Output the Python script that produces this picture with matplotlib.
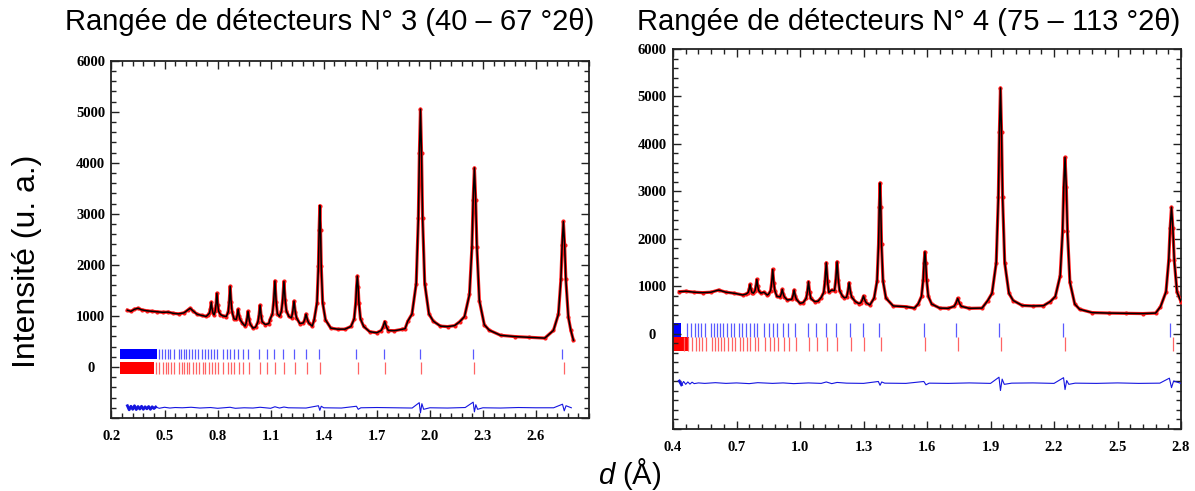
import matplotlib
matplotlib.use('Agg')
import matplotlib.pyplot as plt
from matplotlib.ticker import MultipleLocator

plt.rcParams['font.family'] = ['Liberation Sans', 'DejaVu Sans']
plt.rcParams['mathtext.fontset'] = 'custom'
plt.rcParams['mathtext.it'] = 'Liberation Sans:italic'
plt.rcParams['mathtext.rm'] = 'Liberation Sans'

# --- detector bank 3 (40 - 67 deg 2theta): profile ---
d3 = [0.29, 0.31, 0.33, 0.35, 0.37, 0.40, 0.43, 0.46, 0.49, 0.52, 0.55, 0.58, 0.61, 0.63, 0.645, 0.66, 0.685, 0.71, 0.735,
      0.744, 0.754, 0.759, 0.764, 0.769, 0.774, 0.780,
      0.786, 0.791, 0.796, 0.801, 0.806, 0.816, 0.830, 0.849,
      0.860, 0.8655, 0.871, 0.8765, 0.882, 0.893,
      0.905, 0.9105, 0.916, 0.9215, 0.927, 0.940, 0.955,
      0.960, 0.966, 0.972, 0.978, 0.984, 1.000, 1.015,
      1.028, 1.034, 1.040, 1.046, 1.052, 1.070, 1.090,
      1.096, 1.110, 1.117, 1.124, 1.131, 1.138, 1.150,
      1.161, 1.168, 1.175, 1.182, 1.189, 1.203,
      1.218, 1.225, 1.232, 1.239, 1.246, 1.265,
      1.285, 1.2925, 1.300, 1.3075, 1.315, 1.335,
      1.346, 1.362, 1.370, 1.374, 1.378, 1.382, 1.386, 1.394, 1.410, 1.44, 1.48, 1.52,
      1.554, 1.572, 1.581, 1.5855, 1.590, 1.5945, 1.599, 1.608, 1.626, 1.66, 1.70,
      1.725, 1.735, 1.745, 1.755, 1.765, 1.80, 1.84, 1.86, 1.875,
      1.899, 1.923, 1.935, 1.941, 1.947, 1.953, 1.959, 1.971, 1.995, 2.02, 2.06, 2.10, 2.14,
      2.168, 2.196, 2.224, 2.238, 2.245, 2.252, 2.259, 2.266, 2.280, 2.308, 2.336, 2.40, 2.48, 2.56, 2.65,
      2.699, 2.727, 2.741, 2.748, 2.755, 2.762, 2.769, 2.783, 2.797, 2.812]
i3 = [1110, 1090, 1130, 1150, 1120, 1100, 1090, 1080, 1070, 1075, 1050, 1040, 1060, 1110, 1150, 1100, 1030, 1010, 990,
      1016, 1054, 1135, 1270, 1135, 1054, 1020,
      1089, 1222, 1445, 1222, 1089, 1027, 1000, 988,
      1076, 1265, 1580, 1265, 1076, 940,
      930, 1005, 1130, 1005, 930, 860, 800,
      842, 935, 1090, 935, 842, 760, 780,
      882, 1005, 1210, 1005, 882, 830, 850,
      928, 1040, 1280, 1685, 1280, 1040, 990,
      1095, 1312, 1675, 1312, 1095, 990,
      962, 1085, 1290, 1085, 962, 850,
      863, 928, 1035, 928, 863, 800,
      923, 1256, 1970, 2684, 3160, 2684, 1970, 1256, 923, 760, 740, 740,
      793, 940, 1255, 1570, 1780, 1570, 1255, 940, 793, 690, 670,
      714, 780, 890, 780, 714, 710, 735, 750, 895,
      1036, 1634, 2915, 4196, 5050, 4196, 2915, 1634, 1036, 895, 800, 790, 810,
      884, 986, 1420, 2350, 3280, 3900, 3280, 2350, 1300, 826, 720, 620, 595, 580, 565,
      716, 1034, 1715, 2396, 2850, 2396, 1715, 980, 720, 520]

d3_diff = [0.29, 0.30, 0.31, 0.32, 0.33, 0.34, 0.35, 0.36, 0.37, 0.38, 0.39, 0.40, 0.41, 0.42, 0.43, 0.44, 0.45,
           0.47, 0.50, 0.53, 0.56, 0.60, 0.65, 0.70, 0.76, 0.80, 0.87, 0.90, 0.95, 1.00, 1.04, 1.10, 1.124, 1.15,
           1.175, 1.20, 1.30, 1.37, 1.378, 1.386, 1.40, 1.50, 1.585, 1.595, 1.61, 1.70, 1.80, 1.90,
           1.94, 1.947, 1.955, 1.965, 2.00, 2.10, 2.20, 2.245, 2.252, 2.26, 2.27, 2.30, 2.40, 2.50, 2.60, 2.70,
           2.75, 2.76, 2.77, 2.80]
i3_diff = [-760, -840, -770, -830, -760, -835, -775, -825, -770, -830, -780, -820, -775, -830, -780, -815, -785,
           -810, -790, -805, -795, -800, -790, -805, -795, -810, -790, -810, -800, -805, -790, -810, -780, -805,
           -785, -800, -805, -760, -850, -770, -800, -805, -770, -830, -800, -795, -800, -805,
           -700, -900, -720, -830, -800, -805, -795, -690, -880, -740, -830, -800, -805, -795, -800, -800,
           -730, -860, -760, -800]

# --- detector bank 4 (75 - 113 deg 2theta) ---
d4 = [0.43, 0.46, 0.50, 0.54, 0.58, 0.615, 0.65, 0.69, 0.73,
      0.746, 0.755, 0.7595, 0.764, 0.7685, 0.773, 0.780,
      0.787, 0.7915, 0.796, 0.8005, 0.805, 0.815, 0.830, 0.845,
      0.851, 0.861, 0.866, 0.871, 0.876, 0.881, 0.891,
      0.906, 0.911, 0.916, 0.921, 0.926, 0.940,
      0.961, 0.9665, 0.972, 0.9775, 0.983, 1.000, 1.015,
      1.029, 1.0345, 1.040, 1.0455, 1.051, 1.070, 1.085,
      1.100, 1.112, 1.118, 1.124, 1.130, 1.136, 1.150,
      1.163, 1.169, 1.175, 1.181, 1.187, 1.200, 1.210,
      1.220, 1.226, 1.232, 1.238, 1.244, 1.262, 1.278,
      1.287, 1.2935, 1.300, 1.3065, 1.313, 1.330,
      1.350, 1.364, 1.371, 1.3745, 1.378, 1.3815, 1.385, 1.392, 1.406, 1.44, 1.50, 1.54,
      1.558, 1.574, 1.582, 1.586, 1.590, 1.594, 1.598, 1.606, 1.622, 1.66, 1.70,
      1.728, 1.7365, 1.745, 1.7535, 1.762, 1.80, 1.86,
      1.887, 1.907, 1.927, 1.937, 1.942, 1.947, 1.952, 1.957, 1.967, 1.987, 2.007, 2.05, 2.10, 2.15,
      2.183, 2.206, 2.229, 2.2405, 2.246, 2.252, 2.258, 2.2635, 2.275, 2.298, 2.321, 2.38, 2.46, 2.54, 2.62, 2.68,
      2.703, 2.729, 2.742, 2.7485, 2.755, 2.7615, 2.768, 2.781, 2.800]
i4 = [890, 900, 880, 870, 880, 925, 880, 857, 821,
      843, 873, 938, 1045, 938, 873, 860,
      910, 1000, 1150, 1000, 910, 860, 880, 820,
      834, 912, 1080, 1360, 1080, 912, 790,
      780, 840, 940, 840, 780, 716,
      729, 802, 925, 802, 729, 646, 660,
      748, 880, 1100, 880, 748, 680, 690,
      767, 876, 1110, 1500, 1110, 876, 925,
      912, 1140, 1520, 1140, 912, 800, 760,
      776, 890, 1080, 890, 776, 680, 640,
      656, 710, 800, 710, 656, 610,
      755, 1116, 1890, 2664, 3180, 2664, 1890, 1116, 755, 590, 575, 545,
      630, 794, 1145, 1496, 1730, 1496, 1145, 794, 630, 545, 540,
      582, 645, 750, 645, 582, 540, 545,
      704, 856, 1500, 2880, 4260, 5180, 4260, 2880, 1500, 856, 704, 600, 590, 595,
      684, 787, 1224, 2160, 3096, 3720, 3096, 2160, 1090, 630, 520, 450, 440, 435, 430, 440,
      574, 886, 1555, 2224, 2670, 2224, 1555, 886, 680]

d4_diff = [0.43, 0.44, 0.45, 0.46, 0.47, 0.48, 0.49, 0.50,
           0.52, 0.55, 0.60, 0.65, 0.70, 0.76, 0.80, 0.87, 0.92, 0.97, 1.04, 1.10, 1.124, 1.15, 1.175, 1.22, 1.30,
           1.37, 1.378, 1.386, 1.40, 1.50, 1.585, 1.595, 1.61, 1.70, 1.80, 1.90,
           1.94, 1.947, 1.955, 1.965, 2.00, 2.10, 2.20, 2.245, 2.252, 2.26, 2.27, 2.30, 2.40, 2.50, 2.60, 2.70,
           2.745, 2.755, 2.765, 2.80]
i4_diff = [-990, -1070, -1000, -1060, -1010, -1055, -1015, -1045,
           -1030, -1040, -1025, -1040, -1030, -1045, -1025, -1040, -1030, -1045, -1030, -1040, -1010, -1045,
           -1020, -1035, -1040,
           -1000, -1080, -1010, -1035, -1040, -1000, -1070, -1035, -1040, -1030, -1040,
           -910, -1190, -950, -1060, -1035, -1030, -1040, -920, -1170, -980, -1060, -1035, -1040, -1030, -1040,
           -1035, -930, -1130, -990, -1040]

# Bragg reflection positions (d, A), two phases
bragg_blue = [0.467, 0.486, 0.504, 0.518, 0.533, 0.551, 0.580, 0.593, 0.608, 0.623, 0.636, 0.655, 0.673,
              0.689, 0.711, 0.726, 0.745, 0.762, 0.781, 0.796, 0.829, 0.852, 0.871, 0.890, 0.918, 0.942,
              0.974, 1.036, 1.077, 1.121, 1.171, 1.234, 1.297, 1.374, 1.585, 1.739, 1.942, 2.242, 2.750]
bragg_red = [0.452, 0.470, 0.489, 0.507, 0.521, 0.536, 0.554, 0.583, 0.596, 0.611, 0.626, 0.640, 0.659,
             0.677, 0.693, 0.715, 0.730, 0.749, 0.766, 0.785, 0.800, 0.833, 0.856, 0.875, 0.894, 0.922,
             0.946, 0.979, 1.041, 1.082, 1.126, 1.177, 1.240, 1.303, 1.381, 1.592, 1.746, 1.950, 2.251, 2.760]

SERIF = dict(fontfamily='Liberation Serif', fontweight='bold', fontsize=10.5)


def panel(ax, d, obs, dd, diff, blue_block, red_block, blue_y, red_y, xlim, ylim, x0):
    # Bragg ticks
    ax.fill_between(blue_block, blue_y[0], blue_y[1], color='#0000ff', lw=0)
    ax.fill_between(red_block, red_y[0], red_y[1], color='#ff0000', lw=0)
    ax.vlines(bragg_blue, blue_y[0], blue_y[1], color='#5a5aff', lw=0.9)
    ax.vlines(bragg_red, red_y[0], red_y[1], color='#ff6464', lw=0.9)
    # observed (red), calculated (black), difference (blue)
    ax.plot(d, obs, color='#ff1a1a', lw=2.3, solid_joinstyle='round', zorder=3)
    ax.plot(d, obs, 'o', color='#ff1a1a', ms=3.0, mec='none', zorder=3)
    ax.plot(d, obs, color='black', lw=1.1, zorder=4)
    ax.plot(dd, diff, color='#1515e0', lw=0.8, zorder=3)
    noisy = [k for k, v in enumerate(dd) if v < blue_block[1] + 0.01]
    ax.plot([dd[k] for k in noisy], [diff[k] for k in noisy], color='#1515e0', lw=2.0, zorder=3)

    ax.set_xlim(*xlim)
    ax.set_ylim(*ylim)
    xt = [round(x0 + 0.3 * k, 1) for k in range(9) if x0 + 0.3 * k <= xlim[1] + 1e-9]
    ax.set_xticks(xt, labels=['%.1f' % v for v in xt], **SERIF)
    yt = list(range(ylim[0], 7000, 1000))
    ax.set_yticks(yt, labels=[str(v) if v >= 0 else '' for v in yt], ha='center', **SERIF)
    ax.xaxis.set_minor_locator(MultipleLocator(0.06, offset=x0))
    ax.yaxis.set_minor_locator(MultipleLocator(200))
    ax.tick_params(which='both', direction='in', top=True, right=True, width=1.0, color='#222222')
    ax.tick_params(which='major', length=6)
    ax.tick_params(which='minor', length=3.5)
    ax.tick_params(axis='y', pad=15)
    ax.tick_params(axis='x', pad=9)
    for s in ax.spines.values():
        s.set_linewidth(1.3)
        s.set_color('#222222')


fig = plt.figure(figsize=(11.95, 4.91), dpi=100)
ax1 = fig.add_axes([0.0933, 0.1487, 0.3996, 0.7277])
ax2 = fig.add_axes([0.5632, 0.1263, 0.4251, 0.7739])

panel(ax1, d3, i3, d3_diff, i3_diff, [0.25, 0.455], [0.25, 0.442], (150, 350), (-130, 100),
      (0.2, 2.9), (-1000, 6000), 0.2)
panel(ax2, d4, i4, d4_diff, i4_diff, [0.40, 0.44], [0.40, 0.475], (-60, 230), (-360, -63),
      (0.4, 2.8), (-2000, 6000), 0.4)

fig.text(0.276, 0.955, 'Rangée de détecteurs N° 3 (40 – 67 °2θ)', ha='center', va='center', fontsize=21)
fig.text(0.760, 0.955, 'Rangée de détecteurs N° 4 (75 – 113 °2θ)', ha='center', va='center', fontsize=21)
fig.text(0.0226, 0.468, 'Intensité (u. a.)', rotation=90, ha='center', va='center', fontsize=23)
fig.text(0.527, 0.035, '$d$ (Å)', ha='center', va='center', fontsize=21)

fig.savefig('out.png', dpi=100, facecolor='white')
